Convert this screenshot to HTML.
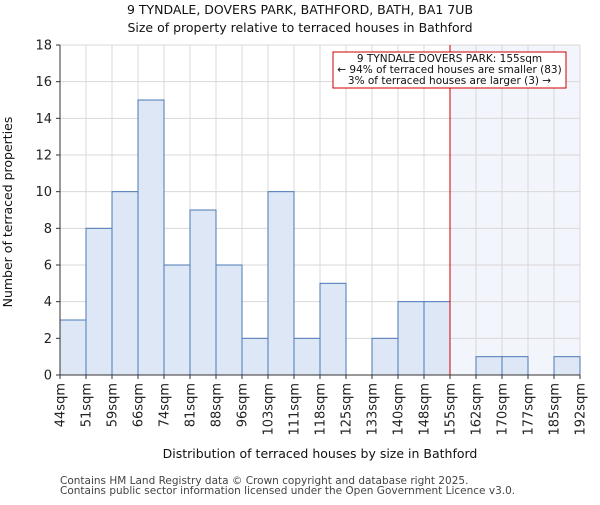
<!DOCTYPE html>
<html><head><meta charset="utf-8"><style>
body{margin:0;background:#fff;}
svg text{font-family:"DejaVu Sans","Liberation Sans",sans-serif;}
</style></head><body>
<svg id="c" width="600" height="500" xmlns="http://www.w3.org/2000/svg"></svg>
<script>
const categories=["44sqm","51sqm","59sqm","66sqm","74sqm","81sqm","88sqm","96sqm","103sqm","111sqm","118sqm","125sqm","133sqm","140sqm","148sqm","155sqm","162sqm","170sqm","177sqm","185sqm","192sqm"];
const counts=[3,8,10,15,6,9,6,2,10,2,5,0,2,4,4,0,1,1,0,1];
const yTicks=[0,2,4,6,8,10,12,14,16,18];
const markerIndex=15;
const svg=document.getElementById('c');
const NS='http://www.w3.org/2000/svg';
const X0=60,X1=580,Y0=375,Y1=45,YMAX=18;
const bw=(X1-X0)/counts.length;
const xs=i=>X0+i*bw;
const ys=v=>Y0-(v/YMAX)*(Y0-Y1);
function mk(t,a,p){const e=document.createElementNS(NS,t);for(const k in a)e.setAttribute(k,a[k]);(p||svg).appendChild(e);return e;}
let sh=mk('rect',{x:xs(markerIndex),y:Y1,width:X1-xs(markerIndex),height:Y0-Y1,fill:'#f3f5fc'});


yTicks.forEach(v=>{const l=mk('line',{x1:X0,x2:X1,y1:ys(v),y2:ys(v),stroke:'#d8d8d8','stroke-width':1});

});
for(let i=0;i<=counts.length;i++){const l=mk('line',{x1:xs(i),x2:xs(i),y1:Y1,y2:Y0,stroke:'#d8d8d8','stroke-width':1});

}
counts.forEach((v,i)=>{if(v<=0)return;const r=mk('rect',{x:xs(i),y:ys(v),width:bw,height:Y0-ys(v),fill:'#dde7f5',stroke:'#4a78b5','stroke-width':1});

});
let ax=mk('path',{d:`M${X0},${Y1}V${Y0}H${X1}`,fill:'none',stroke:'#333','stroke-width':1});


yTicks.forEach(v=>{mk('line',{x1:X0-4,x2:X0,y1:ys(v),y2:ys(v),stroke:'#333'});
const t=mk('text',{x:X0-8,y:ys(v)+4.5,'text-anchor':'end','font-size':13,fill:'#222'});t.textContent=v;

});
categories.forEach((c,i)=>{mk('line',{x1:xs(i),x2:xs(i),y1:Y0,y2:Y0+4,stroke:'#333'});
const t=mk('text',{x:0,y:0,'text-anchor':'end','font-size':13,fill:'#222',transform:`translate(${xs(i)+4.5},${Y0+8}) rotate(-90)`});t.textContent=c;

});
let ml=mk('line',{x1:xs(markerIndex),x2:xs(markerIndex),y1:Y1,y2:Y0,stroke:'#cc0000','stroke-width':1});


let bx=mk('rect',{x:333,y:52,width:233,height:36,fill:'#fff',stroke:'#cc0000','stroke-width':1});


[["9 TYNDALE DOVERS PARK: 155sqm",62],["← 94% of terraced houses are smaller (83)",73],["3% of terraced houses are larger (3) →",84]].forEach(([s,y])=>{
const t=mk('text',{x:449.5,y:y,'text-anchor':'middle','font-size':10.5,fill:'#111'});t.textContent=s;

});
[["9 TYNDALE, DOVERS PARK, BATHFORD, BATH, BA1 7UB",14],["Size of property relative to terraced houses in Bathford",32]].forEach(([s,y],k)=>{
const t=mk('text',{x:300,y:y,'text-anchor':'middle','font-size':12.5,fill:'#111'});t.textContent=s;

});
let xt=mk('text',{x:320,y:458,'text-anchor':'middle','font-size':12.5,fill:'#111'});xt.textContent='Distribution of terraced houses by size in Bathford';


let yt=mk('text',{x:0,y:0,'text-anchor':'middle','font-size':12.5,fill:'#111',transform:'translate(12,212) rotate(-90)'});yt.textContent='Number of terraced properties';


[["Contains HM Land Registry data © Crown copyright and database right 2025.",484],["Contains public sector information licensed under the Open Government Licence v3.0.",494]].forEach(([s,y])=>{
const t=mk('text',{x:60,y:y,'font-size':10.5,fill:'#444'});t.textContent=s;

});
</script>
</body></html>
